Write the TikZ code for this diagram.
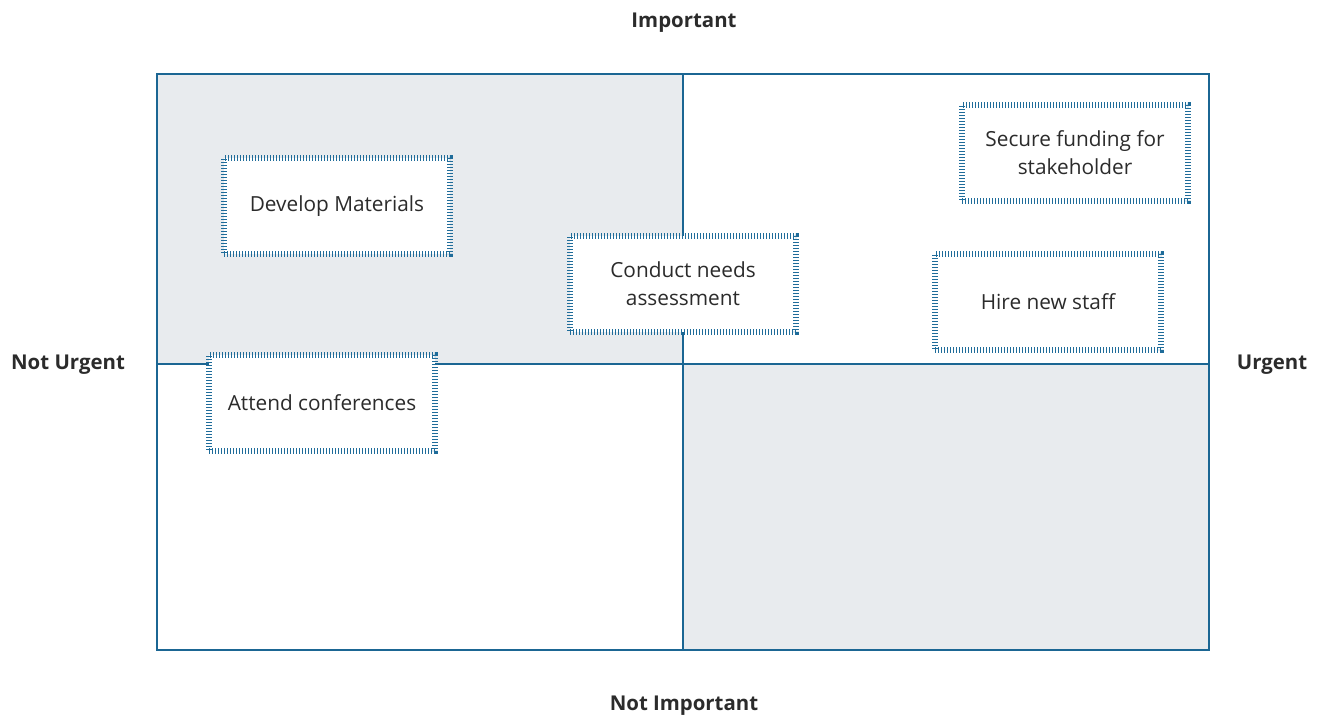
\documentclass[tikz,border=0pt]{standalone}
\usepackage{fontspec}
\setmainfont{Open Sans}
\begin{document}
\begin{tikzpicture}[x=0.75pt,y=-0.75pt,
  frame/.style={draw=axisblue, line width=2pt},
  task/.style={draw=hatchblue, fill=white, line width=4.5pt,
    dash pattern=on 1.1pt off 1.15pt, minimum width=169.5pt, minimum height=72pt,
    align=center, font=\fontsize{15.6}{21}\selectfont, text=textgray, inner sep=0pt},
  axislabel/.style={font=\fontsize{15.3}{18}\selectfont\bfseries, text=textgray}]
\definecolor{axisblue}{HTML}{1B6693}
\definecolor{hatchblue}{HTML}{1F6C9A}
\definecolor{quadgray}{HTML}{E8EBEE}
\definecolor{textgray}{HTML}{2B2B2B}
\useasboundingbox (0,0) rectangle (1322,719);
% shaded quadrants
\fill[quadgray] (157,74) rectangle (683,364);
\fill[quadgray] (683,364) rectangle (1209,650);
% axes and outer frame
\coordinate (tl) at (157,74);
\coordinate (br) at (1209,650);
\coordinate (top) at (683,74);
\coordinate (bot) at (683,650);
\coordinate (lft) at (157,364);
\coordinate (rgt) at (1209,364);
\draw[frame] (tl) rectangle (br);
\draw[frame] (top) -- (bot);
\draw[frame] (lft) -- (rgt);
% axis labels
\node[axislabel] (imp) at (684,23) {Important};
\node[axislabel] (nimp) at (684,706) {Not Important};
\node[axislabel] (nurg) at (68,365) {Not Urgent};
\node[axislabel] (urg) at (1272,365) {Urgent};
% tasks
\node[task] (dev) at (337,206) {Develop Materials};
\node[task] (cna) at (683,284) {Conduct needs\\assessment};
\node[task] (fund) at (1075,153) {Secure funding for\\stakeholder};
\node[task] (hire) at (1048,302) {Hire new staff};
\node[task] (conf) at (322,403) {Attend conferences};
\end{tikzpicture}
\end{document}
